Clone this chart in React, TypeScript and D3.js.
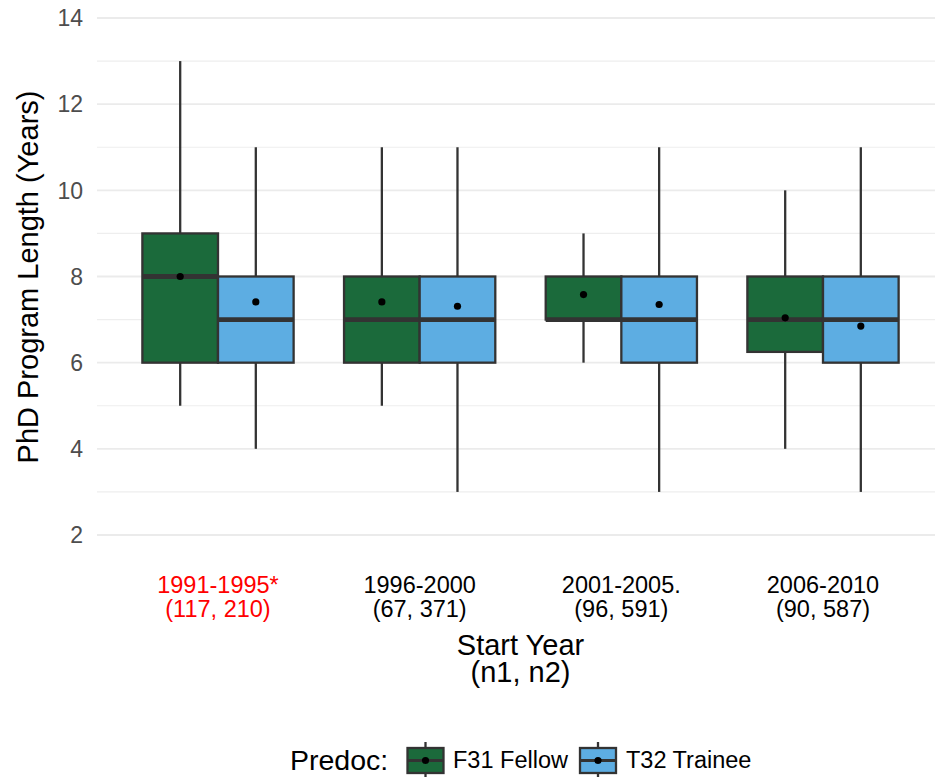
import React from 'react';
import * as d3 from 'd3';

const categories = ['1991-1995*', '1996-2000', '2001-2005.', '2006-2010'];
const nLabels = ['(117, 210)', '(67, 371)', '(96, 591)', '(90, 587)'];
const groups = ['F31 Fellow', 'T32 Trainee'];
const groupColors = ['#1B6A3B', '#5DADE2'];

// five number summary per start-year bin, plus the mean
const f31Lower = [5, 5, 6, 4];
const f31Q1 = [6, 6, 7, 6.25];
const f31Median = [8, 7, 7, 7];
const f31Q3 = [9, 8, 8, 8];
const f31Upper = [13, 11, 9, 10];
const f31Mean = [8.0, 7.41, 7.58, 7.04];

const t32Lower = [4, 3, 3, 3];
const t32Q1 = [6, 6, 6, 6];
const t32Median = [7, 7, 7, 7];
const t32Q3 = [8, 8, 8, 8];
const t32Upper = [11, 11, 11, 11];
const t32Mean = [7.41, 7.31, 7.35, 6.85];

const yTicks = [2, 4, 6, 8, 10, 12, 14];
const yMinor = [3, 5, 7, 9, 11, 13];

const W = 935;
const H = 777;
const font = "'Liberation Sans', Arial, sans-serif";
const ink = '#333333';

const App = () => {
  const x = d3.scalePoint<string>().domain(categories).range([97, 944]).padding(0.6);
  const step = x.step();
  const y = d3.scaleLinear().domain([2, 14]).range([535, 18]);
  const boxW = step * 0.375;

  const stats = [
    { lower: f31Lower, q1: f31Q1, med: f31Median, q3: f31Q3, upper: f31Upper, mean: f31Mean },
    { lower: t32Lower, q1: t32Q1, med: t32Median, q3: t32Q3, upper: t32Upper, mean: t32Mean },
  ];

  const boxes = categories.flatMap((c, i) =>
    stats.map((s, g) => ({
      cx: (x(c) as number) + (g === 0 ? -1 : 1) * boxW / 2,
      lower: s.lower[i], q1: s.q1[i], med: s.med[i], q3: s.q3[i], upper: s.upper[i], mean: s.mean[i],
      fill: groupColors[g],
    }))
  );

  const legendKeys = [
    { x0: 407.5, tx: 453 },
    { x0: 580, tx: 626 },
  ];

  return (
    <div style={{ position: 'absolute', left: 0, top: 0 }}>
      <svg width={W} height={H} style={{ display: 'block', background: 'white' }} fontFamily={font}>
        {/* grid */}
        {yMinor.map(t => (
          <line key={'m' + t} x1={97} x2={W} y1={y(t)} y2={y(t)} stroke="#EEEEEE" strokeWidth={1.1} />
        ))}
        {yTicks.map(t => (
          <line key={'g' + t} x1={97} x2={W} y1={y(t)} y2={y(t)} stroke="#EBEBEB" strokeWidth={1.8} />
        ))}

        {/* boxes */}
        {boxes.map((b, i) => (
          <g key={i}>
            <line x1={b.cx} x2={b.cx} y1={y(b.upper)} y2={y(b.q3)} stroke={ink} strokeWidth={2.3} />
            <line x1={b.cx} x2={b.cx} y1={y(b.q1)} y2={y(b.lower)} stroke={ink} strokeWidth={2.3} />
            <rect x={b.cx - boxW / 2} width={boxW} y={y(b.q3)} height={y(b.q1) - y(b.q3)}
              fill={b.fill} stroke={ink} strokeWidth={2.3} />
            <line x1={b.cx - boxW / 2} x2={b.cx + boxW / 2} y1={y(b.med)} y2={y(b.med)} stroke={ink} strokeWidth={4.8} />
          </g>
        ))}
        {boxes.map((b, i) => (
          <circle key={'p' + i} cx={b.cx} cy={y(b.mean)} r={3.6} fill="black" />
        ))}

        {/* y axis */}
        {yTicks.map(t => (
          <text key={'t' + t} x={83} y={y(t)} dy="0.36em" textAnchor="end" fontSize={23} fill="#4D4D4D">{t}</text>
        ))}
        <text transform="translate(38,277) rotate(-90)" textAnchor="middle" fontSize={29} fill="black">
          PhD Program Length (Years)
        </text>

        {/* x axis */}
        {categories.map((c, i) => (
          <text key={c} x={x(c)} y={593} textAnchor="middle" fontSize={23.5} fill={i === 0 ? '#FF0000' : 'black'}>
            <tspan x={x(c)}>{c}</tspan>
            <tspan x={x(c)} dy={24}>{nLabels[i]}</tspan>
          </text>
        ))}
        <text x={520.5} y={655} textAnchor="middle" fontSize={29} fill="black">Start Year</text>
        <text x={520.5} y={682} textAnchor="middle" fontSize={29} fill="black">(n1, n2)</text>

        {/* legend */}
        <text x={290} y={770} fontSize={28.5} fill="black">Predoc:</text>
        {legendKeys.map((k, g) => (
          <g key={g}>
            <line x1={k.x0 + 18} x2={k.x0 + 18} y1={742} y2={779} stroke={ink} strokeWidth={2.3} />
            <rect x={k.x0} y={748} width={36} height={25} fill={groupColors[g]} stroke={ink} strokeWidth={2.3} />
            <line x1={k.x0} x2={k.x0 + 36} y1={760.5} y2={760.5} stroke={ink} strokeWidth={2.8} />
            <circle cx={k.x0 + 18} cy={760.5} r={3.6} fill="black" />
            <text x={k.tx} y={768} fontSize={23.5} fill="black">{groups[g]}</text>
          </g>
        ))}
      </svg>
    </div>
  );
};

export default App;
